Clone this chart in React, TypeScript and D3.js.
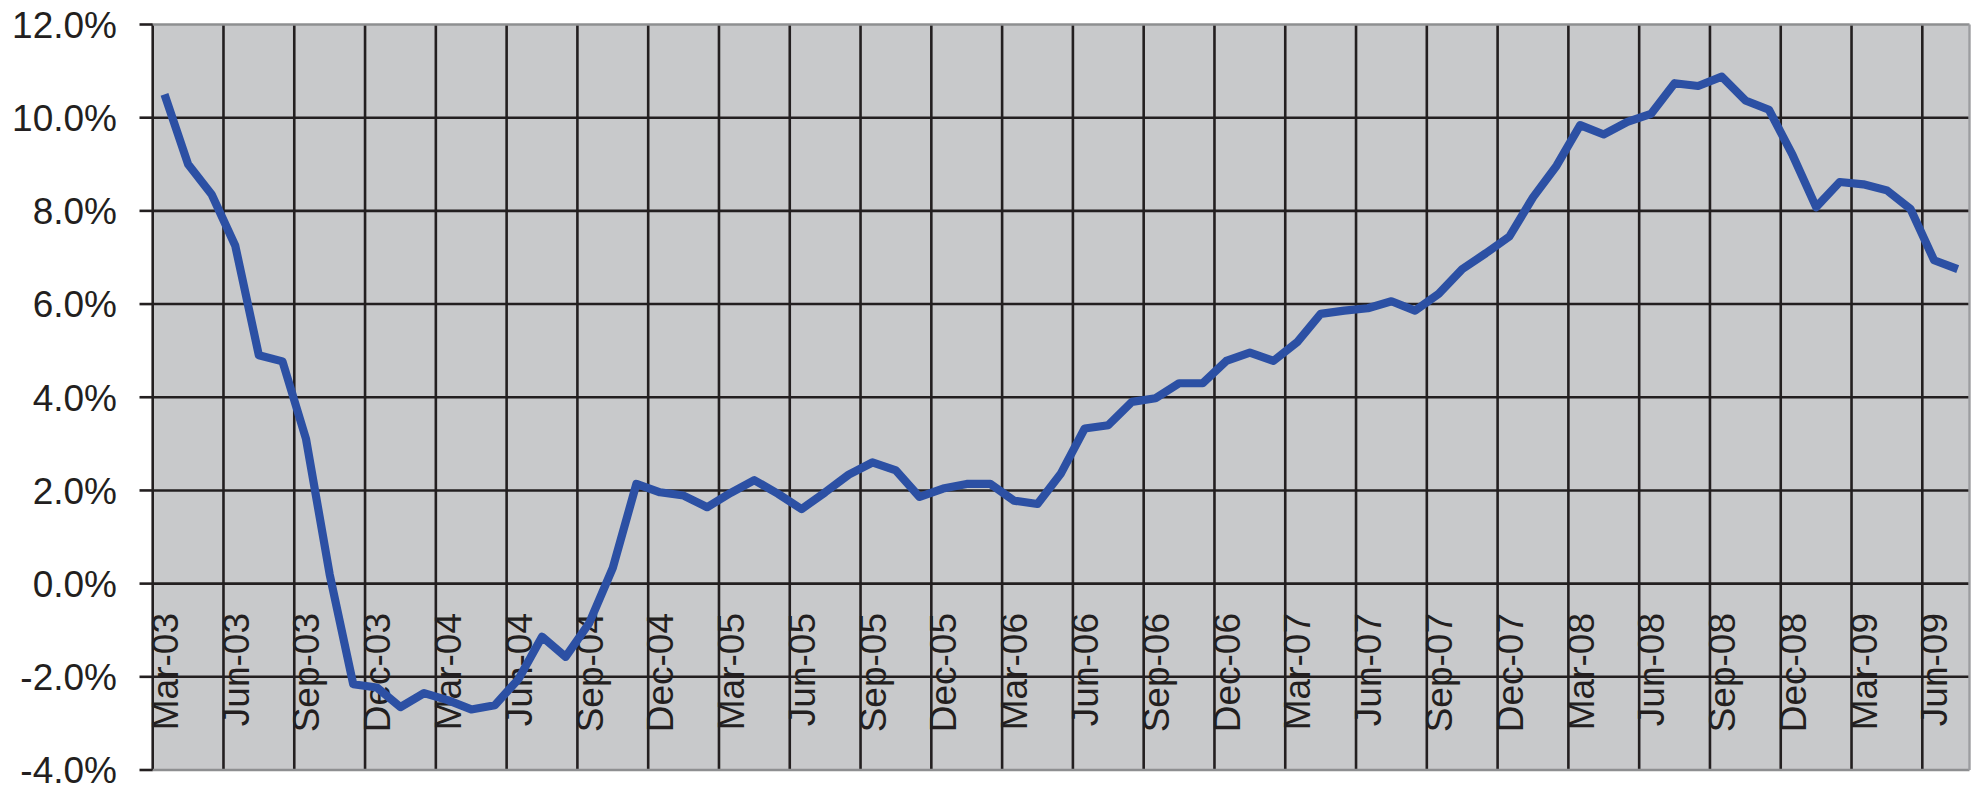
import React from "react";
import * as d3 from "d3";

const months: string[] = (() => {
  const names = ["Jan","Feb","Mar","Apr","May","Jun","Jul","Aug","Sep","Oct","Nov","Dec"];
  const out: string[] = [];
  let m = 2, y = 3;
  for (let i = 0; i < 77; i++) {
    out.push(`${names[m]}-${String(y).padStart(2, "0")}`);
    m++;
    if (m === 12) { m = 0; y++; }
  }
  return out;
})();

const values: number[] = [
  10.5, 9.0, 8.35, 7.25, 4.9, 4.77, 3.1, 0.2, -2.16, -2.23,
  -2.65, -2.35, -2.5, -2.7, -2.61, -2.05, -1.14, -1.57, -0.85, 0.34,
  2.14, 1.96, 1.89, 1.64, 1.95, 2.22, 1.93, 1.6, 1.96, 2.34,
  2.6, 2.43, 1.86, 2.04, 2.14, 2.14, 1.78, 1.71, 2.37, 3.33,
  3.4, 3.9, 3.98, 4.3, 4.3, 4.78, 4.96, 4.78, 5.18, 5.79,
  5.86, 5.91, 6.06, 5.86, 6.22, 6.75, 7.09, 7.45, 8.29, 8.97,
  9.84, 9.64, 9.91, 10.08, 10.74, 10.68, 10.88, 10.37, 10.17, 9.2,
  8.08, 8.62, 8.57, 8.44, 8.04, 6.94, 6.75,
];

const yTicks: number[] = [-4, -2, 0, 2, 4, 6, 8, 10, 12];

const W = 1981, H = 790;
const X0 = 152.7, X1 = 1969.5, Y0 = 24.5, Y1 = 770;
const FONT = "'Liberation Sans', Arial, Helvetica, sans-serif";
const INK = "#231f20";

export default function App() {
  const x = d3.scaleBand<string>().domain(months).range([X0, X1]).padding(0);
  const y = d3.scaleLinear().domain([-4, 12]).range([Y1, Y0]);
  const line = d3
    .line<number>()
    .x((_, i) => (x(months[i]) as number) + x.bandwidth() / 2)
    .y((d) => y(d));

  const labelled = months.filter((_, i) => i % 3 === 0);

  return (
    <svg
      width={W}
      height={H}
      style={{ position: "absolute", left: 0, top: 0, display: "block" }}
    >
      <rect x={0} y={0} width={W} height={H} fill="#ffffff" />
      <rect x={X0} y={Y0} width={X1 - X0} height={Y1 - Y0} fill="#c8c9cb" />
      {yTicks.filter((t) => t > -4 && t < 12).map((t) => (
        <line key={"h" + t} x1={X0} x2={X1} y1={y(t)} y2={y(t)} stroke={INK} strokeWidth={2.6} />
      ))}
      {labelled.map((m) => (
        <line
          key={"v" + m}
          x1={x(m) as number}
          x2={x(m) as number}
          y1={Y0}
          y2={Y1}
          stroke={INK}
          strokeWidth={2.6}
        />
      ))}
      <line x1={X0} x2={X1} y1={Y0} y2={Y0} stroke="#8e8f91" strokeWidth={2.4} />
      <line x1={X0} x2={X1} y1={Y1} y2={Y1} stroke="#8e8f91" strokeWidth={2.4} />
      <line x1={X1} x2={X1} y1={Y0} y2={Y1} stroke="#9c9da0" strokeWidth={2.4} />
      {yTicks.map((t) => (
        <g key={"yt" + t}>
          <line x1={139.5} x2={X0} y1={y(t)} y2={y(t)} stroke={INK} strokeWidth={2.6} />
          <text
            x={117}
            y={y(t)}
            dy="0.36em"
            textAnchor="end"
            fontFamily={FONT}
            fontSize={37}
            fill={INK}
          >
            {t.toFixed(1) + "%"}
          </text>
        </g>
      ))}
      {labelled.map((m) => {
        const cx = (x(m) as number) + x.bandwidth() / 2;
        return (
          <text
            key={"xl" + m}
            transform={`translate(${cx},613) rotate(-90)`}
            dy="0.36em"
            textAnchor="end"
            fontFamily={FONT}
            fontSize={37}
            fill={INK}
          >
            {m}
          </text>
        );
      })}
      <path
        d={line(values) as string}
        fill="none"
        stroke="#2c50a4"
        strokeWidth={8.2}
        strokeLinejoin="round"
        strokeLinecap="butt"
      />
    </svg>
  );
}
